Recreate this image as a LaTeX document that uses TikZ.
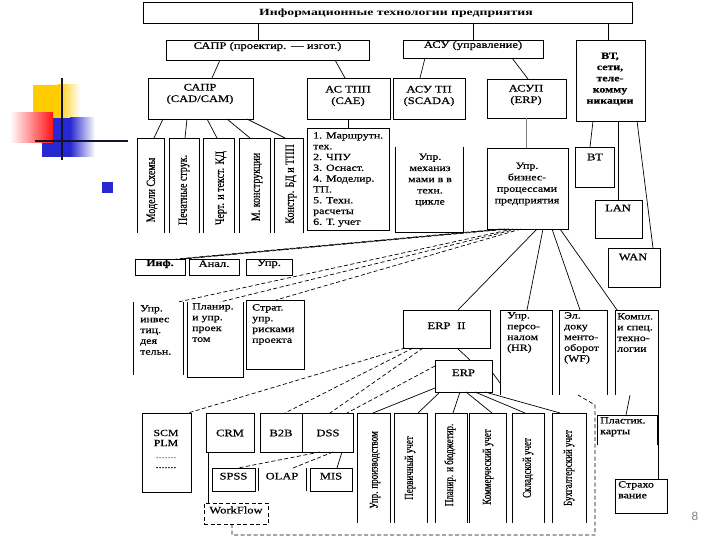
\documentclass[tikz,border=0pt]{standalone}
\usepackage{fontspec}
\setmainfont{Liberation Serif}
\newfontfamily\wserif[FakeStretch=1.25,FakeBold=0.6]{Liberation Serif}
\newfontfamily\tserif[FakeStretch=1.45]{Liberation Serif}
\newfontfamily\cserif[FakeStretch=0.8,FakeBold=0.6]{Liberation Serif}
\newfontfamily\ccserif[FakeStretch=0.75,FakeBold=0.6]{Liberation Serif}
\newfontfamily\pagefont{Liberation Sans}
\usetikzlibrary{fit}
\definecolor{decoyellow}{RGB}{255,204,0}
\definecolor{decored}{RGB}{255,20,20}
\definecolor{decoblue}{RGB}{40,40,210}
\definecolor{decoline}{RGB}{20,20,40}
\begin{document}
\begin{tikzpicture}[x=1pt,y=-1pt,
  bx/.style={draw, line width=0.9pt, inner sep=0pt, outer sep=0pt},
  dbx/.style={draw, line width=0.9pt, inner sep=0pt, outer sep=0pt, dash pattern=on 4pt off 2.5pt},
  nb/.style={inner sep=0pt, outer sep=0pt},
  side/.style={line width=0.9pt},
  con/.style={line width=0.7pt},
  dcon/.style={line width=0.7pt, dash pattern=on 4pt off 2.5pt},
  lbl/.style={font=\wserif\fontsize{10}{11.5}\selectfont, align=center, inner sep=0pt},
  lbll/.style={font=\wserif\fontsize{9.5}{10.8}\selectfont, align=left, inner sep=0pt, anchor=north west},
  vlbl/.style={font=\cserif\fontsize{12.5}{13}\selectfont, rotate=90, inner sep=0pt},
  vlblb/.style={font=\ccserif\fontsize{12}{13}\selectfont, rotate=90, inner sep=0pt},
]
\useasboundingbox (0,0) rectangle (720,540);
% ---------- decoration ----------
\fill[decoyellow] (33,85) rectangle (58,118);
\shade[left color=decoyellow, right color=white] (58,85) rectangle (80,118);
\fill[decoblue] (42,118) rectangle (70,157);
\shade[left color=decoblue, right color=white] (70,118) rectangle (95,157);
\shade[left color=white, right color=decored] (10,113) rectangle (53,143);
\draw[decoline, line width=2.5pt] (62,78) -- (62,160);
\draw[decoline, line width=2.5pt] (35,141) -- (128,141);
\fill[decoblue] (102,182) rectangle (113,193);
\node[nb, font=\pagefont\fontsize{12}{12}\selectfont, text=gray] (pg) at (695,516) {8};
% ---------- boxes ----------
\node[bx, fit={(143,2) (632,23)}] (title) {};
\node[nb, font=\tserif\bfseries\fontsize{9.5}{11}\selectfont] (titlet) at (396,13) {Информационные технологии предприятия};
\node[bx, fit={(166,40) (369,60)}, lbl] (saprP) {САПР (проектир. — изгот.)};
\node[bx, fit={(403,40) (543,58)}, lbl] (asu) {АСУ (управление)};
\node[bx, fit={(576,40) (645,121)}] (vt) {};
\node[lbl, font=\wserif\bfseries\fontsize{9.5}{11.2}\selectfont] (vtt) at (610,79) {ВТ,\\сети,\\теле-\\комму\\никации};
\node[bx, fit={(148,78) (253,119)}] (sapr) {};
\node[lbl] (saprt) at (200,94) {САПР\\(CAD/CAM)};
\node[bx, fit={(307,78) (390,119)}] (astpp) {};
\node[lbl] (astppt) at (348,96) {АС ТПП\\(CAE)};
\node[bx, fit={(393,78) (465,119)}] (asutp) {};
\node[lbl] (asutpt) at (429,96) {АСУ ТП\\(SCADA)};
\node[bx, fit={(487,79) (566,118)}] (asup) {};
\node[lbl] (asupt) at (526,95) {АСУП\\(ERP)};
% vertical boxes under CAD/CAM
\node[nb, fit={(137,138) (164,233)}] (v1) {};
\node[nb, fit={(169,138) (199,233)}] (v2) {};
\node[nb, fit={(203,138) (234,233)}] (v3) {};
\node[nb, fit={(239,138) (270,233)}] (v4) {};
\node[nb, fit={(274,138) (303,233)}] (v5) {};
\foreach \v in {v1,v2,v3,v4,v5}
  \draw[side] (\v.south west) -- (\v.north west) -- (\v.north east) -- (\v.south east);
\node[vlbl] (v1t) at (152,190) {Модели Схемы};
\node[vlbl] (v2t) at (184,190) {Печатные струк.};
\node[vlbl] (v3t) at (221,188) {Черт. и текст. КД};
\node[vlbl] (v4t) at (257,187) {М. конструкции};
\node[vlbl] (v5t) at (291,184) {Констр. БД и ТПП};
\node[bx, fit={(307,128) (389,230)}] (list) {};
\node[lbll] (listt) at (313,132) {1. Маршрутн.\\тех.\\2. ЧПУ\\3. Оснаст.\\4. Моделир.\\ТП.\\5. Техн.\\расчеты\\6. Т. учет};
\node[nb, fit={(395,147) (463,232)}] (mech) {};
\draw[side] (mech.north west) -- (mech.south west) -- (mech.south east) -- (mech.north east);
\node[lbl, font=\wserif\fontsize{9.5}{11.2}\selectfont] (mecht) at (430,180) {Упр.\\механиз\\мами в в\\техн.\\цикле};
\node[bx, fit={(487,148) (568,229)}] (biz) {};
\node[lbl, font=\wserif\fontsize{9.5}{11.5}\selectfont] (bizt) at (527,184) {Упр.\\бизнес-\\процессами\\предприятия};
\node[bx, fit={(575,147) (614,187)}] (bt) {};
\node[lbl] (btt) at (595,157) {ВТ};
\node[bx, fit={(595,200) (642,238)}] (lan) {};
\node[lbl] (lant) at (618,208) {LAN};
\node[bx, fit={(608,248) (660,287)}] (wan) {};
\node[lbl] (want) at (633,257) {WAN};
\node[bx, fit={(135,259) (185,275)}, lbl, font=\wserif\bfseries\fontsize{9.5}{11}\selectfont] (inf) {Инф.};
\node[bx, fit={(189,259) (239,275)}, lbl] (anal) {Анал.};
\node[bx, fit={(246,259) (292,275)}, lbl] (upr) {Упр.};
\node[nb, fit={(133,302) (183,375)}] (invest) {};
\draw[side] (invest.north west) -- (invest.south west);
\draw[side] (invest.north east) -- (invest.south east);
\node[lbll] (investt) at (140,305) {Упр.\\инвес\\тиц.\\дея\\тельн.};
\node[nb, fit={(187,302) (243,377)}] (plan) {};
\draw[side] (plan.north west) -- (plan.south west) -- (plan.south east) -- (plan.north east);
\node[lbll] (plant) at (192,303) {Планир.\\и упр.\\проек\\том};
\node[bx, fit={(246,300) (304,369)}] (strat) {};
\node[lbll] (stratt) at (252,304) {Страт.\\упр.\\рисками\\проекта};
\node[bx, fit={(403,310) (490,348)}, lbl] (erpii) {ERP\ \ II};
\node[bx, fit={(435,360) (492,392)}, lbl] (erp) {ERP};
\node[nb, fit={(500,310) (552,395)}] (hr) {};
\node[nb, fit={(559,310) (607,395)}] (wf) {};
\node[nb, fit={(615,310) (658,395)}] (kompl) {};
\draw[side] (hr.south west) -- (hr.north west) -- (hr.north east) -- (hr.south east);
\draw[side] (wf.south west) -- (wf.north west) -- (wf.north east) -- (wf.south east);
\node[lbll] (hrt) at (507,312) {Упр.\\персо-\\налом\\(HR)};
\node[lbll] (wft) at (564,312) {Эл.\\доку\\менто-\\оборот\\(WF)};
\node[lbll] (komplt) at (617,313) {Компл.\\и спец.\\техно-\\логии};
% bottom row
\node[bx, fit={(142,413) (191,492)}] (scm) {};
\node[lbl, font=\wserif\fontsize{9.5}{10}\selectfont] (scmt) at (166,449) {SCM\\PLM\\[2pt]\textcolor{gray}{.......}\\.......};
\node[bx, fit={(206,413) (254,452)}] (crm) {};
\node[lbl] (crmt) at (230,433) {CRM};
\node[bx, fit={(260,413) (302,452)}] (btb) {};
\node[lbl] (btbt) at (281,433) {B2B};
\node[bx, fit={(302,413) (353,452)}] (dss) {};
\node[lbl] (dsst) at (328,433) {DSS};
\node[bx, fit={(212,468) (255,491)}, lbl] (spss) {SPSS};
\node[nb, fit={(258,468) (306,491)}, lbl] (olap) {OLAP};
\draw[side] (olap.north west) -- (olap.south west);
\draw[side] (olap.north east) -- (olap.south east);
\node[bx, fit={(310,468) (352,491)}, lbl] (mis) {MIS};
\node[dbx, fit={(204,503) (268,524)}, lbl] (wflow) {WorkFlow};
% ERP modules
\node[nb, fit={(357,413) (390,523)}] (abox) {};
\node[nb, fit={(394,413) (427,523)}] (bbox) {};
\node[nb, fit={(435,413) (467,523)}] (cbox) {};
\node[nb, fit={(469,413) (506,523)}] (dbox) {};
\node[nb, fit={(512,413) (544,523)}] (ebox) {};
\node[nb, fit={(552,413) (586,523)}] (fbox) {};
\foreach \v in {abox,bbox,cbox,dbox,ebox,fbox}
  \draw[side] (\v.south west) -- (\v.north west) -- (\v.north east) -- (\v.south east);
\node[vlblb] (at) at (375,470) {Упр. производством};
\node[vlblb] (bt2) at (410,468) {Первичный учет};
\node[vlblb] (ct) at (450,465) {Планир. и бюджетир.};
\node[vlblb] (dt) at (488,467) {Коммерческий учет};
\node[vlblb] (et) at (528,468) {Складской учет};
\node[vlblb] (ft) at (569,468) {Бухгалтерский учет};
% right side
\node[nb, fit={(597,415) (657,445)}] (plast) {};
\draw[side] (plast.south west) -- (plast.north west) -- (plast.north east) -- (plast.south east);
\node[lbll] (plastt) at (600,417) {Пластик.\\карты};
\node[bx, fit={(615,479) (667,513)}] (strah) {};
\node[lbll] (straht) at (618,481) {Страхо\\вание};
\draw[side] (kompl.south west) -- (kompl.north west) -- (kompl.north east) -- (kompl.north east |- strah.north);
% ---------- connectors ----------
\coordinate (s1) at ([xshift=-9.5pt]saprP.north);
\draw[con] (s1) -- (s1 |- title.south);
\draw[con] (asu.north) -- (asu.north |- title.south);
\coordinate (s3) at ([xshift=-2.5pt]vt.north);
\draw[con] (s3) -- (s3 |- title.south);
\draw[con] ([xshift=54pt]saprP.south west) -- ([xshift=64pt]sapr.north west);
\draw[con] ([xshift=-34pt]saprP.south east) -- ([xshift=38pt]astpp.north west);
\draw[con] ([xshift=22pt]asu.south west) -- ([xshift=27pt]asutp.north west);
\draw[con] ([xshift=109pt]asu.south west) -- ([xshift=41pt]asup.north west);
\draw[con] ([xshift=15pt]sapr.south west) -- ([xshift=17pt]v1.north west);
\draw[con] ([xshift=39pt]sapr.south west) -- ([xshift=16pt]v2.north west);
\draw[con] ([xshift=59pt]sapr.south west) -- ([xshift=14pt]v3.north west);
\draw[con] ([xshift=79pt]sapr.south west) -- ([xshift=11pt]v4.north west);
\draw[con] ([xshift=99pt]sapr.south west) -- ([xshift=11pt]v5.north west);
\draw[con] (astpp.south) -- (astpp.south |- list.north);
\draw[con, gray] (asup.south) -- (asup.south |- biz.north);
\draw[con] ([xshift=17pt]vt.south west) -- ([xshift=15pt]bt.north west);
\coordinate (s4) at ([xshift=42pt]vt.south west);
\draw[con] (s4) -- (s4 |- lan.north);
\draw[con] ([xshift=61pt]vt.south west) -- ([xshift=45pt]wan.north west);
\draw[con] ([xshift=50pt]biz.south west) -- ([xshift=55pt]erpii.north west);
\draw[con] ([xshift=56pt]biz.south west) -- ([xshift=27pt]hr.north west);
\draw[con] ([xshift=65pt]biz.south west) -- ([xshift=21pt]wf.north west);
\draw[con] ([xshift=73pt]biz.south west) -- ([xshift=2pt]kompl.north west);
% dashed from business processes
\draw[dcon] ([xshift=14pt]biz.south west) -- ([xshift=-9pt]inf.north east);
\draw[dcon] ([xshift=18pt]biz.south west) -- ([xshift=-5pt]inf.north east);
\draw[dcon] ([xshift=22pt]biz.south west) -- ([xshift=-1pt]inf.north east);
\draw[dcon] ([xshift=26pt]biz.south west) -- ([xshift=-5pt]invest.north east);
\draw[dcon] ([xshift=30pt]biz.south west) -- ([xshift=33pt]plan.north west);
\draw[dcon] ([xshift=34pt]biz.south west) -- ([xshift=30pt]strat.north west);
% ERP
\draw[con] ([xshift=54pt]erpii.south west) -- ([xshift=35pt]erp.north west);
\draw[con] ([yshift=4pt]erp.east) -- ([yshift=12pt]hr.south west);
\draw[con] ([yshift=4pt]erp.south west) -- ([xshift=16pt]abox.north west);
\draw[con] ([xshift=5pt]erp.south west) -- ([xshift=24pt]bbox.north west);
\draw[con] ([xshift=25pt]erp.south west) -- ([xshift=18pt]cbox.north west);
\draw[con] ([xshift=31pt]erp.south west) -- ([xshift=23pt]dbox.north west);
\draw[con] ([xshift=40pt]erp.south west) -- ([xshift=13pt]ebox.north west);
\draw[con] ([xshift=50pt]erp.south west) -- ([xshift=8pt]fbox.north west);
\draw[dcon] ([xshift=2pt]erpii.south west) -- ([xshift=-3pt]scm.north east);
\draw[dcon] ([xshift=10pt]erpii.south west) -- ([xshift=25pt]btb.north west);
\draw[dcon] ([xshift=20pt]erpii.south west) -- ([xshift=28pt]dss.north west);
\draw[dcon] ([yshift=10pt]erp.west) -- ([xshift=45pt]dss.north west);
\draw[dcon] ([xshift=18pt]dss.south west) -- ([xshift=-17pt]spss.north east);
\draw[dcon] ([xshift=31pt]dss.south west) -- ([xshift=35pt]olap.north west);
\draw[con] ([xshift=40pt]dss.south west) -- ([xshift=27pt]mis.north west);
\draw[con] ([xshift=2pt]crm.south west) -- ([xshift=4pt]wflow.north west);
\coordinate (d1) at (232,535);
\coordinate (d2) at (595,535);
\coordinate (d3) at (595,405);
\draw[dcon] ([xshift=-4pt]wflow.south) -- (d1) -- (d2) -- (d3) -- ([xshift=-5pt]wf.south);
\draw[con] ([xshift=15pt]kompl.south west) -- ([xshift=29pt]plast.north west);
\end{tikzpicture}
\end{document}
